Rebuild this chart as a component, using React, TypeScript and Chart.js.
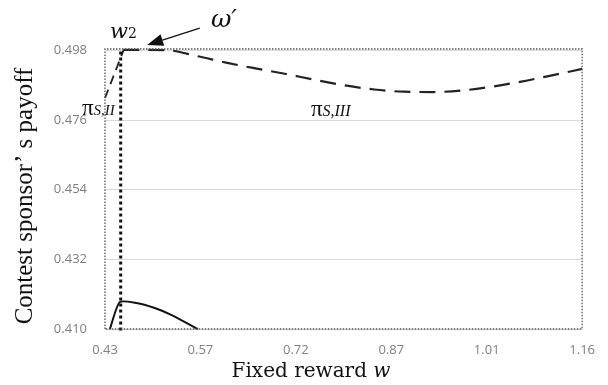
import React, { useEffect, useRef } from "react";
import { Chart, registerables } from "chart.js";
Chart.register(...registerables);

// Axis ticks
const xTickLabels = ["0.43", "0.57", "0.72", "0.87", "1.01", "1.16"];
const yTickValues = [0.41, 0.432, 0.454, 0.476, 0.498];
const xMin = 0.43;
const xMax = 1.16;
const yMin = 0.41;
const yMax = 0.4985;

// pi_S,III (dashed curve)
const piS3W = [0.458, 0.497, 0.527, 0.572, 0.617, 0.662, 0.707, 0.752, 0.797, 0.842, 0.887, 0.932, 0.977, 1.022, 1.067, 1.112, 1.16];
const piS3V = [0.4982, 0.4982, 0.4981, 0.4962, 0.4941, 0.4923, 0.4906, 0.4887, 0.4870, 0.4857, 0.4850, 0.4849, 0.4854, 0.4866, 0.4882, 0.4901, 0.4922];
// pi_S,II (dashed, steep)
const piS2W = [0.43, 0.4585];
const piS2V = [0.483, 0.4982];
// lower solid curve
const lowW = [0.4375, 0.4525, 0.478, 0.505, 0.532, 0.572];
const lowV = [0.41, 0.4185, 0.4182, 0.4167, 0.4144, 0.41];
// w2 vertical line
const w2W = [0.454, 0.454];
const w2V = [0.4977, 0.4088];
// dotted frame
const frameW = [0.43, 0.43, 1.16, 1.16, 0.43];
const frameV = [0.41, 0.4985, 0.4985, 0.41, 0.41];

const pts = (xs: number[], ys: number[]) => xs.map((x, i) => ({ x, y: ys[i] }));

type Run = { text: string; font: string; dy?: number };
function drawRuns(ctx: CanvasRenderingContext2D, runs: Run[], x: number, y: number, align: "left" | "center") {
  let total = 0;
  const widths = runs.map((r) => {
    ctx.font = r.font;
    const w = ctx.measureText(r.text).width;
    total += w;
    return w;
  });
  let cx = align === "center" ? x - total / 2 : x;
  runs.forEach((r, i) => {
    ctx.font = r.font;
    ctx.textAlign = "left";
    ctx.fillText(r.text, cx, y + (r.dy || 0));
    cx += widths[i];
  });
}

const annotationPlugin = {
  id: "annotations",
  afterDraw(chart: any) {
    const ctx: CanvasRenderingContext2D = chart.ctx;
    const xs = chart.scales.x;
    const ys = chart.scales.y;
    const px = (v: number) => xs.getPixelForValue(v);
    const py = (v: number) => ys.getPixelForValue(v);
    ctx.save();
    ctx.fillStyle = "#111";
    ctx.strokeStyle = "#111";
    ctx.textBaseline = "middle";

    // y axis title
    ctx.save();
    ctx.translate(25, 196);
    ctx.rotate(-Math.PI / 2);
    ctx.font = "25px 'Liberation Serif'";
    ctx.textAlign = "center";
    ctx.fillText("Contest sponsor\u2019 s payoff", 0, 0);
    ctx.restore();

    // x axis title
    ctx.textBaseline = "alphabetic";
    drawRuns(
      ctx,
      [
        { text: "Fixed reward ", font: "20px 'DejaVu Serif'" },
        { text: "w", font: "italic 20px 'DejaVu Serif'" },
      ],
      311,
      377,
      "center"
    );

    // pi_S,II label
    drawRuns(
      ctx,
      [
        { text: "\u03c0", font: "23px 'Liberation Serif'" },
        { text: "S,II", font: "italic 15px 'Liberation Serif'" },
      ],
      px(0.43) - 23,
      py(0.4799) + 7,
      "left"
    );
    // pi_S,III label
    drawRuns(
      ctx,
      [
        { text: "\u03c0", font: "23px 'Liberation Serif'" },
        { text: "S,III", font: "italic 16px 'Liberation Serif'" },
      ],
      px(0.745),
      py(0.4795) + 7,
      "left"
    );
    // w2 label
    drawRuns(
      ctx,
      [
        { text: "w", font: "italic 21px 'DejaVu Serif'" },
        { text: "2", font: "14px 'DejaVu Serif'" },
      ],
      px(0.4375),
      py(0.5039) + 6,
      "left"
    );
    // omega' label
    drawRuns(
      ctx,
      [{ text: "\u03c9\u2032", font: "italic 25px 'DejaVu Serif'" }],
      px(0.592),
      py(0.508) + 8,
      "left"
    );

    // arrow
    const x1 = px(0.575), y1 = py(0.5051);
    const x2 = px(0.4945), y2 = py(0.4998);
    const ang = Math.atan2(y2 - y1, x2 - x1);
    const headLen = 16, headW = 6;
    const bx = x2 - headLen * Math.cos(ang), by = y2 - headLen * Math.sin(ang);
    ctx.lineWidth = 1.3;
    ctx.setLineDash([]);
    ctx.beginPath();
    ctx.moveTo(x1, y1);
    ctx.lineTo(bx, by);
    ctx.stroke();
    ctx.beginPath();
    ctx.moveTo(x2, y2);
    ctx.lineTo(bx + headW * Math.sin(ang), by - headW * Math.cos(ang));
    ctx.lineTo(bx - headW * Math.sin(ang), by + headW * Math.cos(ang));
    ctx.closePath();
    ctx.fill();
    ctx.restore();
  },
};

export default function App() {
  const ref = useRef<HTMLCanvasElement>(null);
  useEffect(() => {
    if (!ref.current) return;
    const chart = new Chart(ref.current, {
      type: "scatter",
      data: {
        datasets: [
          {
            label: "frame",
            data: pts(frameW, frameV),
            showLine: true,
            borderColor: "#555",
            borderWidth: 1.3,
            borderDash: [1.5, 1.5],
            pointRadius: 0,
            clip: false,
          } as any,
          {
            label: "w2",
            data: pts(w2W, w2V),
            showLine: true,
            borderColor: "#111",
            borderWidth: 3,
            borderDash: [3, 3],
            pointRadius: 0,
            clip: false,
          },
          {
            label: "piS2",
            data: pts(piS2W, piS2V),
            showLine: true,
            borderColor: "#222",
            borderWidth: 1.8,
            borderDash: [9, 6],
            pointRadius: 0,
            clip: false,
          },
          {
            label: "piS3",
            data: pts(piS3W, piS3V),
            showLine: true,
            borderColor: "#222",
            borderWidth: 2.2,
            borderDash: [16, 9],
            pointRadius: 0,
            cubicInterpolationMode: "monotone",
            clip: false,
          },
          {
            label: "low",
            data: pts(lowW, lowV),
            showLine: true,
            borderColor: "#111",
            borderWidth: 2,
            pointRadius: 0,
            tension: 0.2,
            clip: false,
          },
        ],
      },
      options: {
        animation: false,
        responsive: false,
        devicePixelRatio: 1,
        layout: { padding: { left: 0, right: 16, top: 49, bottom: 0 } },
        plugins: { legend: { display: false }, tooltip: { enabled: false }, title: { display: false } },
        scales: {
          x: {
            type: "linear",
            min: xMin,
            max: xMax,
            grid: { display: false, drawTicks: false },
            border: { display: false },
            afterBuildTicks: (s: any) => {
              s.ticks = xTickLabels.map((_, i) => ({ value: xMin + (i * (xMax - xMin)) / (xTickLabels.length - 1) }));
            },
            ticks: {
              callback: (_v: any, i: number) => xTickLabels[i],
              padding: 13,
              font: { family: "'Open Sans'", size: 13 },
              color: "#7f7f7f",
              maxRotation: 0,
              autoSkip: false,
            },
            afterFit: (s: any) => {
              s.height = 56;
            },
          },
          y: {
            type: "linear",
            min: yMin,
            max: yMax,
            afterBuildTicks: (s: any) => {
              s.ticks = yTickValues.map((v) => ({ value: v }));
            },
            ticks: {
              callback: (v: any) => Number(v).toFixed(3),
              padding: 18,
              font: { family: "'Open Sans'", size: 13 },
              color: "#7f7f7f",
              autoSkip: false,
            },
            grid: { color: "#d9d9d9", drawTicks: false, lineWidth: 1 },
            border: { display: false },
            afterFit: (s: any) => {
              s.width = 105;
            },
          },
        },
      },
      plugins: [annotationPlugin],
    });
    return () => chart.destroy();
  }, []);
  return (
    <div style={{ position: "fixed", left: 0, top: 0, width: 608, height: 385, background: "#fff" }}>
      <canvas ref={ref} width={608} height={385} style={{ display: "block" }} />
    </div>
  );
}
